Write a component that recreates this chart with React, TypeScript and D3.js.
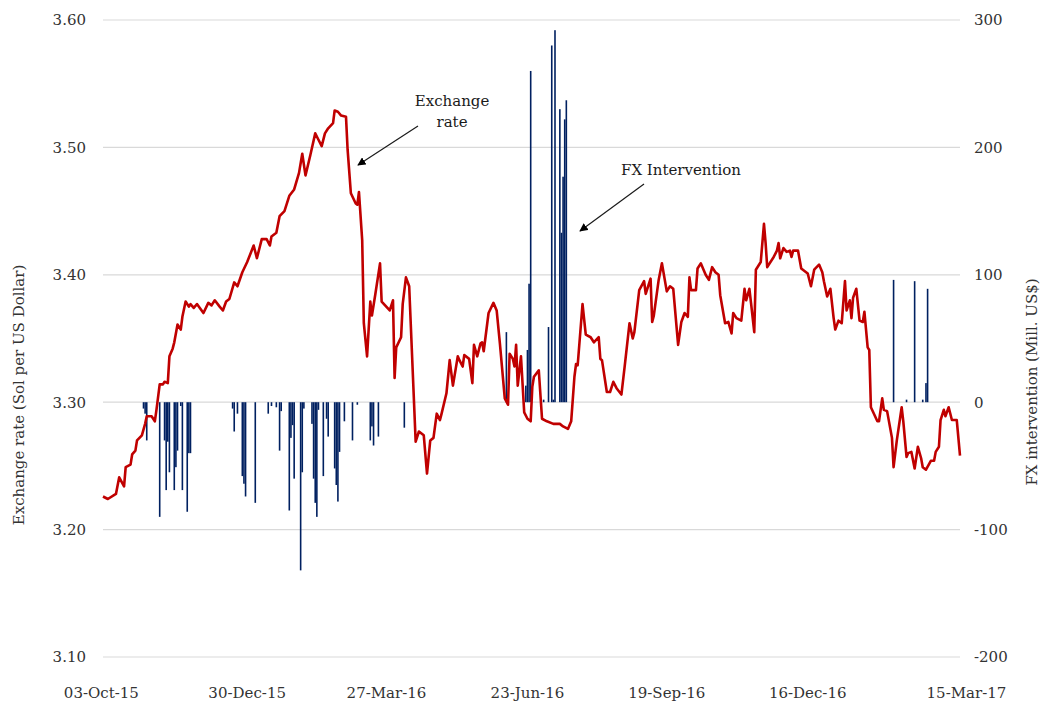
import React from 'react';
import * as d3 from 'd3';

// exchange rate (days since 03-Oct-15)
const rateDays = [
  0, 3, 8, 10, 13, 14, 17, 18, 20, 21,
  24, 26, 27, 30, 32, 33, 35, 37, 38, 40,
  41, 43, 44, 46, 48, 49, 51, 53, 54, 56,
  58, 62, 65, 67, 69, 72, 74, 76, 78, 81,
  83, 86, 89, 93, 95, 97, 98, 101, 103, 104,
  107, 109, 112, 115, 118, 121, 123, 125, 128, 131,
  133, 135, 137, 139, 142, 143, 145, 147, 150, 151,
  153, 156, 157, 158, 160, 161, 163, 165, 166, 168,
  171, 172, 177, 179, 180, 181, 184, 185, 187, 189,
  193, 195, 198, 200, 202, 204, 206, 208, 209, 212,
  214, 216, 219, 220, 222, 223, 226, 228, 229, 231,
  233, 234, 235, 238, 241, 243, 245, 248, 250, 251,
  253, 254, 255, 256, 258, 260, 262, 264, 265, 266,
  269, 271, 274, 278, 282, 284, 287, 289, 291, 292,
  293, 296, 298, 301, 303, 306, 307, 308, 311, 313,
  315, 317, 320, 322, 325, 327, 328, 331, 334, 335,
  338, 339, 340, 343, 345, 348, 350, 352, 355, 357,
  359, 361, 362, 363, 366, 367, 369, 372, 374, 376,
  378, 380, 381, 384, 386, 388, 389, 391, 394, 396,
  397, 399, 400, 402, 403, 406, 408, 409, 410, 414,
  416, 417, 418, 420, 422, 424, 425, 426, 429, 431,
  432, 435, 437, 439, 442, 444, 445, 447, 449, 451,
  452, 454, 456, 458, 459, 461, 462, 463, 465, 467,
  469, 470, 472, 473, 474, 478, 479, 481, 482, 484,
  487, 488, 490, 493, 494, 496, 497, 499, 501, 503,
  505, 506, 508, 511, 513, 514, 516, 517, 519, 520,
  522, 524, 527, 529
];
const rateValues = [
  3.226, 3.224, 3.228, 3.241, 3.234, 3.249, 3.251, 3.259, 3.262, 3.270,
  3.274, 3.283, 3.289, 3.289, 3.285, 3.294, 3.314, 3.314, 3.316, 3.315,
  3.336, 3.342, 3.347, 3.361, 3.357, 3.367, 3.379, 3.375, 3.377, 3.374,
  3.377, 3.370, 3.378, 3.376, 3.380, 3.375, 3.372, 3.379, 3.381, 3.394,
  3.391, 3.402, 3.410, 3.423, 3.413, 3.423, 3.428, 3.428, 3.423, 3.430,
  3.433, 3.446, 3.450, 3.462, 3.467, 3.480, 3.495, 3.478, 3.494, 3.511,
  3.506, 3.501, 3.511, 3.515, 3.519, 3.529, 3.528, 3.525, 3.524, 3.498,
  3.464, 3.456, 3.455, 3.465, 3.427, 3.362, 3.336, 3.379, 3.368, 3.384,
  3.409, 3.379, 3.372, 3.380, 3.319, 3.343, 3.351, 3.377, 3.398, 3.391,
  3.269, 3.277, 3.274, 3.244, 3.270, 3.272, 3.291, 3.286, 3.291, 3.307,
  3.333, 3.313, 3.336, 3.333, 3.328, 3.337, 3.334, 3.315, 3.345, 3.336,
  3.346, 3.347, 3.340, 3.370, 3.378, 3.372, 3.346, 3.303, 3.298, 3.338,
  3.334, 3.328, 3.345, 3.313, 3.336, 3.292, 3.287, 3.285, 3.312, 3.320,
  3.325, 3.287, 3.285, 3.283, 3.283, 3.281, 3.279, 3.285, 3.320, 3.330,
  3.329, 3.377, 3.353, 3.351, 3.347, 3.351, 3.334, 3.333, 3.308, 3.308,
  3.316, 3.311, 3.306, 3.328, 3.362, 3.350, 3.355, 3.388, 3.395, 3.385,
  3.397, 3.363, 3.368, 3.396, 3.409, 3.387, 3.391, 3.389, 3.345, 3.363,
  3.370, 3.367, 3.398, 3.388, 3.388, 3.405, 3.409, 3.400, 3.396, 3.406,
  3.402, 3.400, 3.384, 3.362, 3.363, 3.354, 3.370, 3.366, 3.364, 3.389,
  3.380, 3.389, 3.378, 3.355, 3.404, 3.410, 3.440, 3.425, 3.406, 3.414,
  3.419, 3.425, 3.413, 3.421, 3.418, 3.419, 3.414, 3.419, 3.419, 3.405,
  3.404, 3.401, 3.391, 3.404, 3.408, 3.402, 3.395, 3.383, 3.389, 3.366,
  3.357, 3.364, 3.362, 3.395, 3.372, 3.380, 3.366, 3.382, 3.389, 3.364,
  3.363, 3.371, 3.343, 3.341, 3.296, 3.285, 3.285, 3.303, 3.294, 3.293,
  3.272, 3.249, 3.270, 3.296, 3.285, 3.257, 3.260, 3.261, 3.248, 3.265,
  3.256, 3.249, 3.247, 3.254, 3.254, 3.261, 3.265, 3.286, 3.294, 3.289,
  3.296, 3.286, 3.286, 3.258
];

// FX intervention, mill. US$
const fxDays = [
  25, 26, 27, 35, 38, 39, 40, 41, 44, 45,
  46, 48, 49, 52, 53, 54, 80, 81, 83, 86,
  87, 88, 94, 102, 104, 107, 109, 110, 115, 116,
  117, 118, 122, 123, 124, 129, 130, 131, 132, 133,
  136, 138, 139, 143, 144, 145, 146, 149, 154, 157,
  165, 166, 167, 170, 186, 249, 261, 262, 263, 264,
  272, 275, 277, 278, 279, 282, 283, 284, 285, 286,
  488, 496, 501, 506, 508, 509
];
const fxValues = [
  -5, -9, -30, -90, -30, -69, -31, -55, -69, -51,
  -38, -3, -69, -86, -40, -40, -5, -23, -9, -58,
  -64, -74, -79, -9, -3, -4, -38, -7, -85, -28,
  -18, -60, -132, -55, -5, -17, -60, -79, -90, -6,
  -58, -13, -27, -52, -65, -78, -39, -15, -30, -2,
  -30, -19, -34, -27, -20, 55, 13, 41, 93, 260,
  2, 59, 280, 2, 292, 230, 133, 177, 222, 237,
  96, 2, 95, 2, 15, 89
];

const tickDays = [-1, 89, 175, 262, 348, 435, 533];
const tickLabels = ['03-Oct-15', '30-Dec-15', '27-Mar-16', '23-Jun-16', '19-Sep-16', '16-Dec-16', '15-Mar-17'];
const leftTicks = [3.1, 3.2, 3.3, 3.4, 3.5, 3.6];
const rightTicks = [-200, -100, 0, 100, 200, 300];

const width = 1041;
const height = 702;
const margin = { top: 20, right: 81, bottom: 45, left: 103 };
const font = '"DejaVu Serif", serif';

export default function App() {
  const x = d3.scaleLinear().domain([0, 529]).range([margin.left, width - margin.right]);
  const yL = d3.scaleLinear().domain([3.1, 3.6]).range([height - margin.bottom, margin.top]);
  const yR = d3.scaleLinear().domain([-200, 300]).range([height - margin.bottom, margin.top]);

  const rate = rateDays.map((d, i) => [d, rateValues[i]] as [number, number]);
  const line = d3.line<[number, number]>()
    .x(d => x(d[0]))
    .y(d => yL(d[1]));

  const fx = fxDays.map((d, i) => ({ d, v: fxValues[i] }));

  return (
    <svg width={width} height={height} style={{ position: 'absolute', left: 0, top: 0, background: '#fff' }}
      fontFamily={font}>
      <defs>
        <marker id="arr" viewBox="0 0 10 10" refX="9" refY="5" markerWidth="7" markerHeight="7" orient="auto-start-reverse">
          <path d="M0,0 L10,5 L0,10 z" fill="#000" />
        </marker>
      </defs>

      {leftTicks.map(t => (
        <g key={t}>
          <line x1={x(0)} x2={x(529)} y1={yL(t)} y2={yL(t)} stroke="#d9d9d9" strokeWidth={1.2} />
          <text x={86} y={yL(t)} dy="0.36em" textAnchor="end" fontSize={15} fill="#333">{t.toFixed(2)}</text>
        </g>
      ))}
      {rightTicks.map(t => (
        <text key={t} x={974} y={yR(t)} dy="0.36em" textAnchor="start" fontSize={15} fill="#333">{t}</text>
      ))}

      {tickDays.map((d, i) => (
        <text key={i} x={x(d)} y={698} textAnchor="middle" fontSize={15} fill="#333">{tickLabels[i]}</text>
      ))}

      {fx.map((b, i) => (
        <rect key={i} x={x(b.d) - 0.8} width={1.6}
          y={Math.min(yR(b.v), yR(0))} height={Math.abs(yR(b.v) - yR(0))} fill="#002060" />
      ))}

      <path d={line(rate) || ''} fill="none" stroke="#c00000" strokeWidth={2.6} strokeLinejoin="round" />

      <text transform={`translate(24,395) rotate(-90)`} textAnchor="middle" fontSize={15} fill="#333">
        Exchange rate (Sol per US Dollar)
      </text>
      <text transform={`translate(1037,382) rotate(-90)`} textAnchor="middle" fontSize={15} fill="#333">
        FX intervention (Mill. US$)
      </text>

      <text x={452} y={106} textAnchor="middle" fontSize={15} fill="#1a1a1a">Exchange</text>
      <text x={452} y={127} textAnchor="middle" fontSize={15} fill="#1a1a1a">rate</text>
      <line x1={418} y1={126} x2={358} y2={165} stroke="#1a1a1a" strokeWidth={1.2} markerEnd="url(#arr)" />

      <text x={681} y={175} textAnchor="middle" fontSize={15} fill="#1a1a1a">FX Intervention</text>
      <line x1={644} y1={184} x2={580} y2={231} stroke="#1a1a1a" strokeWidth={1.2} markerEnd="url(#arr)" />
    </svg>
  );
}
